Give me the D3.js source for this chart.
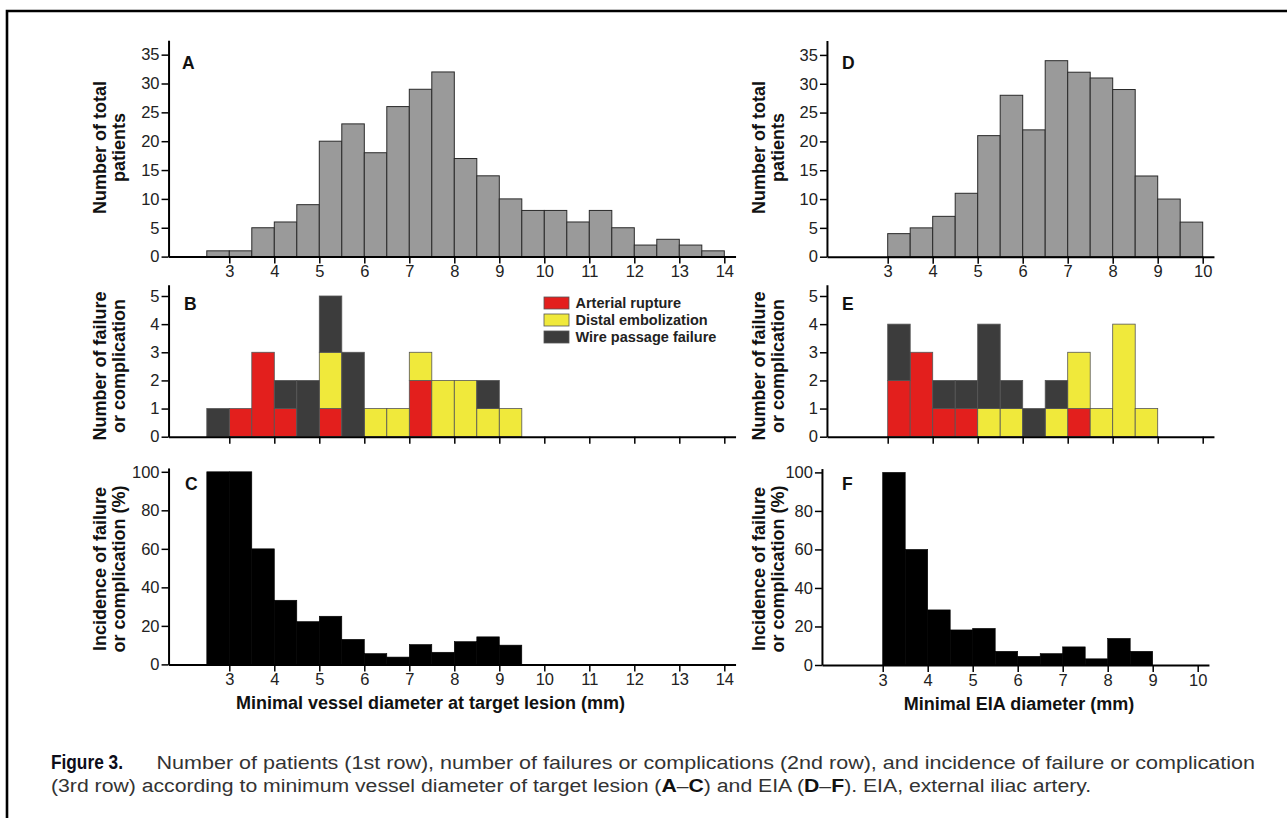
<!DOCTYPE html>
<html><head><meta charset="utf-8">
<script src="https://cdn.jsdelivr.net/npm/d3@7/dist/d3.min.js"></script>
<style>
html,body{margin:0;padding:0;background:#fff;}
svg{display:block;}
</style></head><body>
<svg id="chart" width="1287" height="818"></svg>
<script>
// ---------------- data ----------------
const binWidth = 0.5; // mm per histogram bin

// Panels A–C: minimal vessel diameter at target lesion
const lesionBins = [2.5,3,3.5,4,4.5,5,5.5,6,6.5,7,7.5,8,8.5,9,9.5,10,10.5,11,11.5,12,12.5,13,13.5];
const lesionPatients = [1,1,5,6,9,20,23,18,26,29,32,17,14,10,8,8,6,8,5,2,3,2,1];
const lesionEventBins = [2.5,3,3.5,4,4.5,5,5.5,6,6.5,7,7.5,8,8.5,9];
const lesionRupture      = [0,1,3,1,0,1,0,0,0,2,0,0,0,0];
const lesionEmbolization = [0,0,0,0,0,2,0,1,1,1,2,2,1,1];
const lesionWireFailure  = [1,0,0,1,2,2,3,0,0,0,0,0,1,0];
const lesionIncidence    = [100,100,60,33.3,22.2,25,13,5.6,3.8,10.3,6.3,11.8,14.3,10];

// Panels D–F: minimal EIA diameter
const eiaBins = [3,3.5,4,4.5,5,5.5,6,6.5,7,7.5,8,8.5,9,9.5];
const eiaPatients = [4,5,7,11,21,28,22,34,32,31,29,14,10,6];
const eiaEventBins = [3,3.5,4,4.5,5,5.5,6,6.5,7,7.5,8,8.5];
const eiaRupture      = [2,3,1,1,0,0,0,0,1,0,0,0];
const eiaEmbolization = [0,0,0,0,1,1,0,1,2,1,4,1];
const eiaWireFailure  = [2,0,1,1,3,1,1,1,0,0,0,0];
const eiaIncidence    = [100,60,28.6,18.2,19,7.1,4.5,5.9,9.4,3.2,13.8,7.1];

// ticks & labels
const lesionTicks = [3,4,5,6,7,8,9,10,11,12,13,14];
const eiaTicks = [3,4,5,6,7,8,9,10];
const patientTicks = [0,5,10,15,20,25,30,35];
const countTicks = [0,1,2,3,4,5];
const incidenceTicks = [0,20,40,60,80,100];
const seriesKeys = ["rupture","embolization","wire"];
const seriesNames = ["Arterial rupture","Distal embolization","Wire passage failure"];
const seriesColors = ["#e31f1d","#f0e93b","#3c3c3c"];

// ---------------- drawing ----------------
const svg = d3.select("#chart");
const FONT = "'Liberation Sans', Arial, Helvetica, sans-serif";
svg.append("rect").attr("width",1287).attr("height",818).attr("fill","#fff");
svg.append("path").attr("d","M7,818V11H1287").attr("fill","none").attr("stroke","#000").attr("stroke-width",2.6);

const colors = d3.scaleOrdinal().domain(seriesKeys).range(seriesColors);

const xLesion = d3.scaleLinear().domain([1.65,14.25]).range([168.55,735.55]);
const xEia    = d3.scaleLinear().domain([1.65,10.25]).range([826.95,1213.95]);
// F panel sits ~5px left of D/E in the original
const xEiaF   = d3.scaleLinear().domain([1.65,10.25]).range([821.95,1208.95]);

function yScale(domTop, y0, pxPerUnit){
  return d3.scaleLinear().domain([0,domTop]).range([y0, y0 - domTop*pxPerUnit]);
}
const yPatL = yScale(37.5, 256.6, 5.77);
const yPatR = yScale(37.5, 256.7, 5.765);
const yCntL = yScale(5.4, 436.7, 28.14);
const yCntR = yScale(5.4, 436.7, 28.14);
const yIncL = yScale(102, 664.4, 1.926);
const yIncR = yScale(102, 665, 1.926);

function styleAxis(g){
  g.select(".domain").attr("stroke","#000").attr("stroke-width",2);
  g.selectAll(".tick line").attr("stroke","#000").attr("stroke-width",1.5);
  g.selectAll(".tick text").attr("fill","#222").attr("font-family",FONT).attr("font-size","16.5px");
}
function drawAxes(x, y, xTicks, yTicks, showXLabels){
  const gx = svg.append("g").attr("transform",`translate(0,${y(0)})`)
    .call(d3.axisBottom(x).tickValues(xTicks).tickSize(7).tickSizeOuter(0).tickPadding(2)
      .tickFormat(showXLabels ? d3.format("d") : () => ""));
  styleAxis(gx);
  const gy = svg.append("g").attr("transform",`translate(${x.range()[0]},0)`)
    .call(d3.axisLeft(y).tickValues(yTicks).tickSize(7).tickSizeOuter(0).tickPadding(2).tickFormat(d3.format("d")));
  styleAxis(gy);
}

function drawHist(x, y, bins, values, fill, stroke, sw){
  svg.append("g").selectAll("rect").data(bins.map((b,i)=>({b, v:values[i]}))).join("rect")
    .attr("x", d => x(d.b))
    .attr("width", d => x(d.b + binWidth) - x(d.b))
    .attr("y", d => y(d.v))
    .attr("height", d => y(0) - y(d.v))
    .attr("fill", fill).attr("stroke", stroke).attr("stroke-width", sw);
}

function drawStack(x, y, bins, rupture, embol, wire){
  const rows = bins.map((b,i)=>({bin:b, rupture:rupture[i], embolization:embol[i], wire:wire[i]}));
  const stacked = d3.stack().keys(seriesKeys)(rows);
  svg.append("g").selectAll("g").data(stacked).join("g")
    .attr("fill", s => colors(s.key))
    .selectAll("rect").data(s => s.filter(d => d[1] > d[0])).join("rect")
    .attr("x", d => x(d.data.bin))
    .attr("width", d => x(d.data.bin + binWidth) - x(d.data.bin))
    .attr("y", d => y(d[1]))
    .attr("height", d => y(d[0]) - y(d[1]))
    .attr("stroke","#555").attr("stroke-width",0.8);
}

function yTitle(lines, xBase, cy){
  const t = svg.append("text").attr("transform",`translate(${xBase},${cy}) rotate(-90)`)
    .attr("text-anchor","middle").attr("font-family",FONT).attr("font-weight","bold")
    .attr("font-size","18px").attr("fill","#111");
  lines.forEach((l,i)=> t.append("tspan").attr("x",0).attr("y", i*19).text(l));
}
function panelLetter(txt, x, y){
  svg.append("text").attr("x",x).attr("y",y).attr("font-family",FONT).attr("font-weight","bold")
    .attr("font-size","17.5px").attr("fill","#111").text(txt);
}
function xTitle(txt, cx, y){
  svg.append("text").attr("x",cx).attr("y",y).attr("text-anchor","middle").attr("font-family",FONT)
    .attr("font-weight","bold").attr("font-size","18px").attr("fill","#111").text(txt);
}

// Row 1
drawHist(xLesion, yPatL, lesionBins, lesionPatients, "#9a9a9a", "#2a2a2a", 1);
drawAxes(xLesion, yPatL, lesionTicks, patientTicks, true);
drawHist(xEia, yPatR, eiaBins, eiaPatients, "#9a9a9a", "#2a2a2a", 1);
drawAxes(xEia, yPatR, eiaTicks, patientTicks, true);
// Row 2
drawStack(xLesion, yCntL, lesionEventBins, lesionRupture, lesionEmbolization, lesionWireFailure);
drawAxes(xLesion, yCntL, lesionTicks, countTicks, false);
drawStack(xEia, yCntR, eiaEventBins, eiaRupture, eiaEmbolization, eiaWireFailure);
drawAxes(xEia, yCntR, eiaTicks, countTicks, false);
// Row 3
drawHist(xLesion, yIncL, lesionEventBins, lesionIncidence, "#000", "#000", 0.6);
drawAxes(xLesion, yIncL, lesionTicks, incidenceTicks, true);
drawHist(xEiaF, yIncR, eiaEventBins, eiaIncidence, "#000", "#000", 0.6);
drawAxes(xEiaF, yIncR, eiaTicks, incidenceTicks, true);

// titles
yTitle(["Number of total","patients"], 106, 147.5);
yTitle(["Number of failure","or complication"], 106, 366);
yTitle(["Incidence of failure","or complication (%)"], 106, 569);
yTitle(["Number of total","patients"], 765, 147.5);
yTitle(["Number of failure","or complication"], 765, 366);
yTitle(["Incidence of failure","or complication (%)"], 765, 569);

panelLetter("A",182,68.5); panelLetter("B",184,310); panelLetter("C",185,489.5);
panelLetter("D",842,69);   panelLetter("E",842,310); panelLetter("F",842,489.5);

xTitle("Minimal vessel diameter at target lesion (mm)", 430.5, 709);
xTitle("Minimal EIA diameter (mm)", 1019, 710);

// legend
const leg = svg.append("g").attr("transform","translate(544,297)");
seriesNames.forEach((name,i)=>{
  leg.append("rect").attr("x",0).attr("y",i*17).attr("width",25).attr("height",12)
    .attr("fill",seriesColors[i]).attr("stroke","#555").attr("stroke-width",0.8);
  leg.append("text").attr("x",31.5).attr("y",i*17+11.3).attr("font-family",FONT)
    .attr("font-weight","bold").attr("font-size","14.5px").attr("fill","#222").text(name);
});

// caption
function fitWidth(sel, x0, target){
  const w = sel.node().getComputedTextLength();
  const s = target / w;
  sel.attr("transform",`translate(${x0},0) scale(${s},1) translate(${-x0},0)`);
}
const fig = svg.append("text").attr("x",51).attr("y",769).attr("font-family",FONT)
  .attr("font-weight","bold").attr("font-size","20px").attr("fill","#0d0d1a").text("Figure 3.");
fitWidth(fig, 51, 72);
const cap1 = svg.append("text").attr("x",156.5).attr("y",769).attr("font-family",FONT)
  .attr("font-size","19px").attr("fill","#333")
  .text("Number of patients (1st row), number of failures or complications (2nd row), and incidence of failure or complication");
fitWidth(cap1, 156.5, 1099.5);
const cap2 = svg.append("text").attr("x",51).attr("y",792).attr("font-family",FONT)
  .attr("font-size","19px").attr("fill","#333");
[["(3rd row) according to minimum vessel diameter of target lesion (",false],["A",true],["–",false],["C",true],
 [") and EIA (",false],["D",true],["–",false],["F",true],["). EIA, external iliac artery.",false]]
 .forEach(([t,b])=>{ const ts = cap2.append("tspan").text(t); if(b) ts.attr("font-weight","bold").attr("fill","#111"); });
fitWidth(cap2, 51, 1041);
</script>
</body></html>
